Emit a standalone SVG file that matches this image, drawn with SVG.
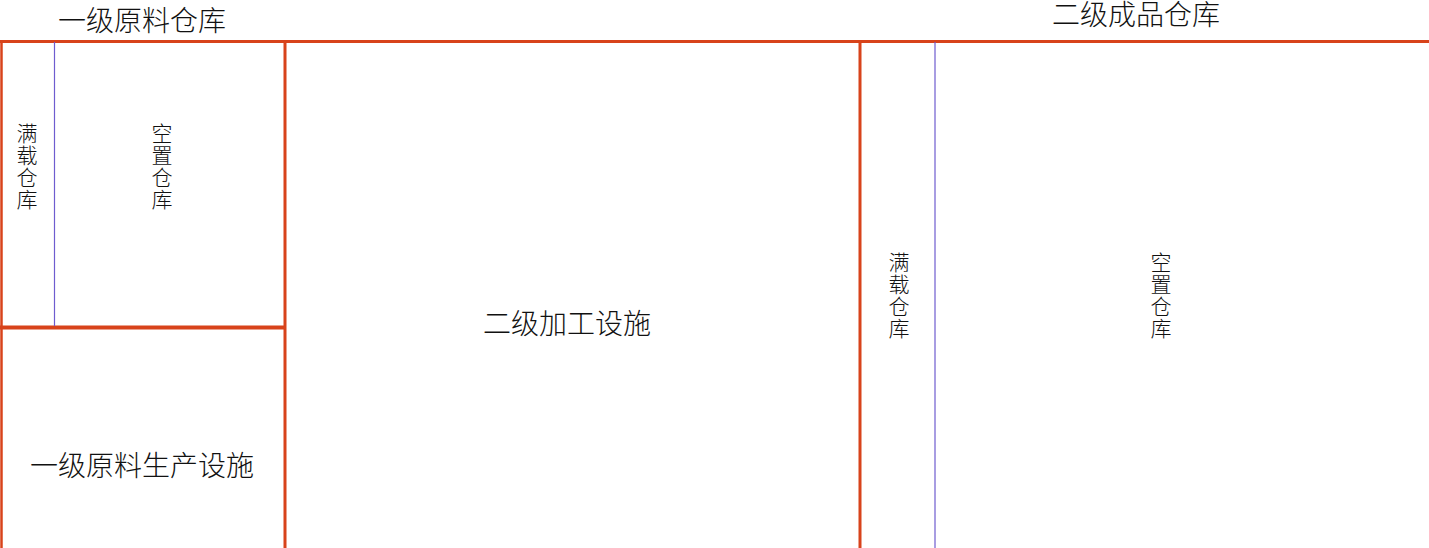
<svg xmlns="http://www.w3.org/2000/svg" width="1429" height="548" viewBox="0 0 1429 548">
<style>
.wall{stroke:#D8431B;fill:none;stroke-linecap:butt}
.div{stroke:#6E5CCF;stroke-width:1.2;fill:none}
text{font-family:"Noto Sans CJK SC","Noto Sans CJK TC",sans-serif;fill:#111;text-anchor:middle;font-weight:300}
.big{font-size:28px}
.v{font-size:21px}
</style>
<rect width="1429" height="548" fill="#ffffff"/>
<g id="connectors">
<line class="wall" x1="0" y1="41.5" x2="1429" y2="41.5" stroke-width="3"/>
<line class="wall" x1="1.5" y1="41" x2="1.5" y2="548" stroke-width="2.5"/>
<line class="wall" x1="285" y1="41" x2="285" y2="548" stroke-width="3"/>
<line class="wall" x1="0" y1="327.5" x2="285" y2="327.5" stroke-width="4"/>
<line class="wall" x1="860" y1="41" x2="860" y2="548" stroke-width="3"/>
<line class="div" x1="54.5" y1="42" x2="54.5" y2="326"/>
<line class="div" x1="935" y1="42" x2="935" y2="548"/>
</g>
<g id="raw-warehouse">
<text class="big" x="142" y="31">一级原料仓库</text>
</g>
<g id="raw-full">
<text class="v" x="27" y="141">满</text>
<text class="v" x="27" y="163">载</text>
<text class="v" x="27" y="185">仓</text>
<text class="v" x="27" y="207">库</text>
</g>
<g id="raw-empty">
<text class="v" x="162" y="141">空</text>
<text class="v" x="162" y="163">置</text>
<text class="v" x="162" y="185">仓</text>
<text class="v" x="162" y="207">库</text>
</g>
<g id="raw-production">
<text class="big" x="142" y="476">一级原料生产设施</text>
</g>
<g id="processing">
<text class="big" x="567" y="334">二级加工设施</text>
</g>
<g id="product-warehouse">
<text class="big" x="1136" y="25">二级成品仓库</text>
</g>
<g id="product-full">
<text class="v" x="899" y="270">满</text>
<text class="v" x="899" y="292">载</text>
<text class="v" x="899" y="314">仓</text>
<text class="v" x="899" y="336">库</text>
</g>
<g id="product-empty">
<text class="v" x="1161" y="270">空</text>
<text class="v" x="1161" y="292">置</text>
<text class="v" x="1161" y="314">仓</text>
<text class="v" x="1161" y="336">库</text>
</g>
</svg>
